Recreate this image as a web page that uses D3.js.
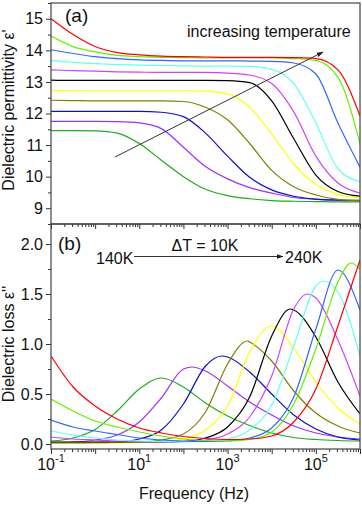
<!DOCTYPE html>
<html>
<head>
<meta charset="utf-8">
<script src="https://cdn.jsdelivr.net/npm/d3@7"></script>
<style>
  body { margin: 0; background: #fff; }
  svg { display: block; font-family: "Liberation Sans", Arial, sans-serif; }
</style>
</head>
<body>
<svg id="chart" width="362" height="505"></svg>
<script>
const logFreq = [-1, -0.5, 0, 0.5, 1, 1.5, 2, 2.5, 3, 3.5, 4, 4.5, 5, 5.5, 6];
const temps = ["140K", "150K", "160K", "170K", "180K", "190K", "200K", "210K", "220K", "230K", "240K"];
const lineColors = ["#1faa1f", "#9933ff", "#1010c8", "#808000", "#ffff00", "#000000",
                    "#cc44ff", "#66ffee", "#3366ff", "#66ee00", "#ff0000"];

// real part, one row per temperature
const epsReal = [
  [11.46, 11.46, 11.45, 11.38, 11.05, 10.52, 10.0, 9.6, 9.4, 9.3, 9.24, 9.22, 9.21, 9.2, 9.2],
  [11.75, 11.75, 11.75, 11.74, 11.7, 11.52, 10.93, 10.32, 9.93, 9.65, 9.48, 9.34, 9.28, 9.25, 9.24],
  [12.07, 12.07, 12.07, 12.07, 12.07, 12.04, 11.9, 11.38, 10.65, 9.98, 9.58, 9.38, 9.29, 9.26, 9.25],
  [12.42, 12.41, 12.4, 12.4, 12.4, 12.4, 12.38, 12.2, 11.8, 11.05, 10.2, 9.68, 9.42, 9.28, 9.24],
  [12.73, 12.72, 12.72, 12.72, 12.72, 12.72, 12.72, 12.71, 12.62, 12.2, 11.35, 10.4, 9.75, 9.44, 9.33],
  [13.06, 13.05, 13.05, 13.05, 13.05, 13.05, 13.05, 13.05, 13.04, 12.98, 12.4, 11.2, 10.05, 9.53, 9.38],
  [13.38, 13.36, 13.34, 13.32, 13.31, 13.3, 13.3, 13.3, 13.28, 13.22, 12.95, 12.05, 10.65, 9.8, 9.48],
  [13.68, 13.62, 13.58, 13.55, 13.53, 13.52, 13.51, 13.5, 13.5, 13.49, 13.4, 12.95, 11.7, 10.25, 9.84],
  [14.02, 13.9, 13.8, 13.74, 13.7, 13.68, 13.67, 13.67, 13.67, 13.66, 13.65, 13.6, 13.25, 11.7, 10.3],
  [14.45, 14.12, 13.95, 13.84, 13.8, 13.78, 13.77, 13.76, 13.76, 13.76, 13.76, 13.74, 13.68, 13.15, 11.05],
  [15.0, 14.5, 14.12, 13.93, 13.86, 13.82, 13.8, 13.79, 13.78, 13.78, 13.78, 13.77, 13.74, 13.38, 11.92]
];

// loss part, one row per temperature
const epsLoss = [
  [0.03, 0.06, 0.145, 0.33, 0.55, 0.66, 0.57, 0.41, 0.28, 0.185, 0.11, 0.065, 0.045, 0.035, 0.03],
  [0.015, 0.02, 0.04, 0.09, 0.22, 0.46, 0.75, 0.73, 0.58, 0.42, 0.29, 0.18, 0.11, 0.07, 0.05],
  [0.01, 0.01, 0.015, 0.02, 0.05, 0.14, 0.40, 0.78, 0.87, 0.72, 0.50, 0.29, 0.15, 0.07, 0.04],
  [0.01, 0.01, 0.01, 0.015, 0.02, 0.04, 0.10, 0.32, 0.80, 1.02, 0.83, 0.53, 0.31, 0.18, 0.11],
  [0.01, 0.01, 0.01, 0.01, 0.015, 0.02, 0.05, 0.14, 0.38, 0.92, 1.18, 0.96, 0.62, 0.36, 0.20],
  [0.02, 0.02, 0.02, 0.02, 0.02, 0.02, 0.025, 0.06, 0.17, 0.47, 1.08, 1.34, 1.07, 0.62, 0.30],
  [0.07, 0.05, 0.04, 0.03, 0.025, 0.02, 0.025, 0.04, 0.10, 0.27, 0.68, 1.35, 1.46, 1.04, 0.48],
  [0.13, 0.09, 0.06, 0.04, 0.03, 0.025, 0.02, 0.025, 0.05, 0.14, 0.39, 0.98, 1.58, 1.52, 0.88],
  [0.24, 0.17, 0.13, 0.095, 0.06, 0.04, 0.03, 0.025, 0.03, 0.06, 0.16, 0.47, 1.15, 1.74, 1.34],
  [0.45, 0.33, 0.23, 0.17, 0.12, 0.08, 0.05, 0.035, 0.03, 0.045, 0.12, 0.40, 0.95, 1.62, 1.75],
  [0.88, 0.57, 0.38, 0.25, 0.16, 0.11, 0.075, 0.055, 0.045, 0.05, 0.08, 0.22, 0.55, 1.18, 1.84]
];
// loss maxima that fall between the read points (null = on a point / off the chart)
const peakLogF = [null, 2.2, 2.87, 3.45, null, 4.42, 4.8, 5.17, null, 5.8, null];
const peakLoss = [null, 0.77, 0.88, 1.03, null, 1.35, 1.50, 1.63, null, 1.81, null];

const permTicks = [9, 10, 11, 12, 13, 14, 15];
const lossTicks = [0, 0.5, 1.0, 1.5, 2.0];
const freqLabelExp = [-1, 1, 3, 5];

const plotLeft = 51, plotRight = 360, plotTop = 3, plotMid = 224, plotBottom = 449;
const svg = d3.select("#chart");

const x = d3.scaleLog().domain([0.1, 1e6]).range([plotLeft, plotRight]);
const yTop = d3.scaleLinear().domain([8.5, 15.5]).range([plotMid, plotTop]);
const yBot = d3.scaleLinear().domain([-0.05, 2.2]).range([plotBottom, plotMid]);

const defs = svg.append("defs");
defs.append("clipPath").attr("id", "clipTop").append("rect")
  .attr("x", plotLeft).attr("y", plotTop).attr("width", plotRight - plotLeft).attr("height", plotMid - plotTop);
defs.append("clipPath").attr("id", "clipBot").append("rect")
  .attr("x", plotLeft).attr("y", plotMid).attr("width", plotRight - plotLeft).attr("height", plotBottom - plotMid);
defs.append("marker").attr("id", "head").attr("viewBox", "0 0 10 10")
  .attr("refX", 9).attr("refY", 5).attr("markerWidth", 7).attr("markerHeight", 7)
  .attr("markerUnits", "userSpaceOnUse").attr("orient", "auto")
  .append("path").attr("d", "M0,1.5L10,5L0,8.5Z").attr("fill", "#222");

// curves
const lineTop = d3.line().x(d => x(Math.pow(10, d[0]))).y(d => yTop(d[1])).curve(d3.curveMonotoneX);
const lineBot = d3.line().x(d => x(Math.pow(10, d[0]))).y(d => yBot(d[1])).curve(d3.curveMonotoneX);

const gTop = svg.append("g").attr("clip-path", "url(#clipTop)");
const gBot = svg.append("g").attr("clip-path", "url(#clipBot)");

temps.forEach((t, i) => {
  const real = logFreq.map((f, j) => [f, epsReal[i][j]]);
  gTop.append("path").attr("d", lineTop(real))
    .attr("fill", "none").attr("stroke", lineColors[i]).attr("stroke-width", 1.2);

  let loss = logFreq.map((f, j) => [f, epsLoss[i][j]]);
  if (peakLogF[i] !== null) {
    loss.push([peakLogF[i], peakLoss[i]]);
    loss.sort((a, b) => a[0] - b[0]);
  }
  gBot.append("path").attr("d", lineBot(loss))
    .attr("fill", "none").attr("stroke", lineColors[i]).attr("stroke-width", 1.2);
});

// axes
const decades = d3.range(-1, 7).map(e => Math.pow(10, e));
const minorFreq = [];
d3.range(-1, 6).forEach(e => { for (let m = 2; m <= 9; m++) minorFreq.push(m * Math.pow(10, e)); });

function styleAxis(g) {
  g.select(".domain").remove();
  g.selectAll("line").attr("stroke", "#333");
  g.selectAll("text").attr("font-size", 16).attr("fill", "#111")
    .attr("font-family", "'Liberation Sans', Arial, sans-serif");
}

[plotMid, plotBottom].forEach(yy => {
  svg.append("g").attr("transform", `translate(0,${yy})`)
    .call(d3.axisBottom(x).tickValues(decades).tickSize(5).tickFormat("")).call(styleAxis);
  svg.append("g").attr("transform", `translate(0,${yy})`)
    .call(d3.axisBottom(x).tickValues(minorFreq).tickSize(3).tickFormat("")).call(styleAxis);
});

svg.append("g").attr("transform", `translate(${plotLeft},0)`)
  .call(d3.axisLeft(yTop).tickValues(permTicks).tickSize(5).tickPadding(3).tickFormat(d3.format("d")))
  .call(styleAxis);
svg.append("g").attr("transform", `translate(${plotLeft},0)`)
  .call(d3.axisLeft(yTop).tickValues(d3.range(8.5, 15.6, 1)).tickSize(3).tickFormat(""))
  .call(styleAxis);
svg.append("g").attr("transform", `translate(${plotLeft},0)`)
  .call(d3.axisLeft(yBot).tickValues(lossTicks).tickSize(5).tickPadding(3).tickFormat(d3.format(".1f")))
  .call(styleAxis);
svg.append("g").attr("transform", `translate(${plotLeft},0)`)
  .call(d3.axisLeft(yBot).tickValues([0.25, 0.75, 1.25, 1.75]).tickSize(3).tickFormat(""))
  .call(styleAxis);

// x tick labels with exponents
freqLabelExp.forEach(e => {
  const t = svg.append("text").attr("x", x(Math.pow(10, e))).attr("y", 470)
    .attr("text-anchor", "middle").attr("font-size", 16).attr("fill", "#111");
  t.append("tspan").text("10");
  t.append("tspan").attr("font-size", 11).attr("dy", -8).text(e < 0 ? "-" + Math.abs(e) : e);
});

// frames
svg.append("rect").attr("x", plotLeft).attr("y", plotTop).attr("width", plotRight - plotLeft).attr("height", plotMid - plotTop)
  .attr("fill", "none").attr("stroke", "#444").attr("stroke-width", 1.2);
svg.append("rect").attr("x", plotLeft).attr("y", plotMid).attr("width", plotRight - plotLeft).attr("height", plotBottom - plotMid)
  .attr("fill", "none").attr("stroke", "#444").attr("stroke-width", 1.2);

// titles
svg.append("text").attr("transform", "translate(14,110) rotate(-90)")
  .attr("text-anchor", "middle").attr("font-size", 16).attr("fill", "#111")
  .text("Dielectric permittivity ε'");
svg.append("text").attr("transform", "translate(14,344) rotate(-90)")
  .attr("text-anchor", "middle").attr("font-size", 16).attr("fill", "#111")
  .text("Dielectric loss ε''");
svg.append("text").attr("x", 194).attr("y", 499).attr("text-anchor", "middle")
  .attr("font-size", 16).attr("fill", "#111").text("Frequency (Hz)");

// annotations
svg.append("text").attr("x", 65).attr("y", 22).attr("font-size", 19).attr("fill", "#111").text("(a)");
svg.append("text").attr("x", 58).attr("y", 250).attr("font-size", 19).attr("fill", "#111").text("(b)");
svg.append("text").attr("x", 187).attr("y", 37).attr("font-size", 16).attr("fill", "#111")
  .text("increasing temperature");
svg.append("line").attr("x1", 115).attr("y1", 157).attr("x2", 323).attr("y2", 52)
  .attr("stroke", "#333").attr("stroke-width", 1).attr("marker-end", "url(#head)");

svg.append("text").attr("x", 96).attr("y", 264).attr("font-size", 16).attr("fill", "#111").text("140K");
svg.append("text").attr("x", 285).attr("y", 263).attr("font-size", 16).attr("fill", "#111").text("240K");
svg.append("text").attr("x", 205).attr("y", 251).attr("text-anchor", "middle").attr("font-size", 16)
  .attr("fill", "#111").text("ΔT = 10K");
svg.append("line").attr("x1", 134).attr("y1", 256.5).attr("x2", 283).attr("y2", 256.5)
  .attr("stroke", "#333").attr("stroke-width", 1).attr("marker-end", "url(#head)");
</script>
</body>
</html>
